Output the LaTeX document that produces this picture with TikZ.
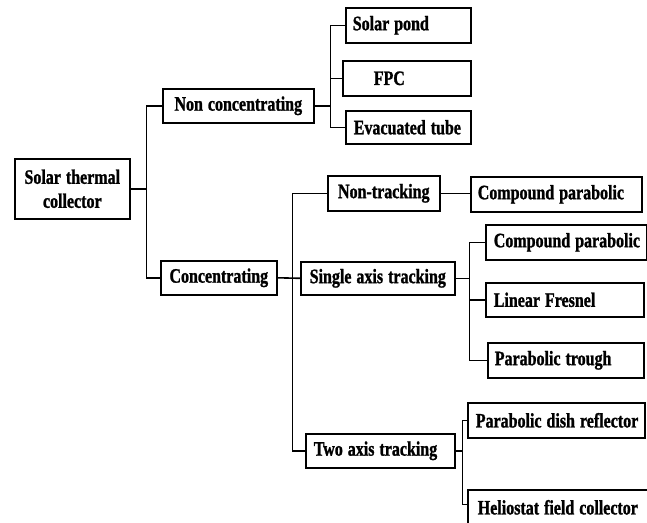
\documentclass[tikz,border=0pt]{standalone}
\usepackage{fontspec}
\setmainfont{Liberation Serif}[FakeStretch=0.78, BoldFeatures={FakeBold=1.2}]
\usetikzlibrary{calc}
\newcommand\myboxfont{\bfseries\fontsize{20.5}{24}\selectfont}
\begin{document}
\begin{tikzpicture}[x=1pt,y=-1pt,
  bx/.style={draw=black, line width=1.6pt, anchor=north west, inner ysep=0pt,
    font=\myboxfont, execute at begin node={\setlength{\spaceskip}{5pt}}},
  cbx/.style={bx, align=center, inner xsep=0pt},
  lbx/.style={bx, align=flush left},
  wire/.style={draw=black, line width=1.6pt}]
\useasboundingbox (0,0) rectangle (647,522);
% level 0
\node[cbx, minimum width=115pt, minimum height=60pt] (root) at (14,158) {Solar thermal\\collector};
% level 1
\node[cbx, minimum width=151pt, minimum height=34pt] (nc) at (162,88) {Non concentrating};
\node[cbx, minimum width=116pt, minimum height=34pt] (conc) at (160,260) {Concentrating};
% non concentrating children
\node[lbx, inner xsep=7pt, text width=111pt, minimum height=35pt] (sp) at (345,7) {\mbox{Solar pond}};
\node[lbx, inner xsep=0pt, text width=128pt, minimum height=35pt] (fpc) at (342,60) {\hspace*{31pt}\mbox{FPC}};
\node[lbx, inner xsep=8pt, text width=109pt, minimum height=33pt] (et) at (345,110) {\mbox{Evacuated tube}};
% concentrating children
\node[cbx, minimum width=112pt, minimum height=35pt] (nt) at (327,175) {Non-tracking};
\node[cbx, minimum width=154pt, minimum height=33pt] (sat) at (300,261) {Single axis tracking};
\node[lbx, inner xsep=8pt, text width=133pt, minimum height=34pt] (tat) at (305,433) {\mbox{Two axis tracking}};
% leaves
\node[lbx, inner xsep=7pt, text width=157pt, minimum height=35pt] (cp1) at (470,176) {\mbox{Compound parabolic}};
\node[lbx, inner xsep=8pt, text width=145pt, minimum height=35pt] (cp2) at (485,224) {\mbox{Compound parabolic}};
\node[lbx, inner xsep=8pt, text width=142pt, minimum height=34pt] (lf) at (485,282) {\mbox{Linear Fresnel}};
\node[lbx, inner xsep=7pt, text width=142pt, minimum height=35pt] (pt) at (487,342) {\mbox{Parabolic trough}};
\node[lbx, inner xsep=8pt, text width=161pt, minimum height=35pt] (pd) at (467,402) {\mbox{Parabolic dish reflector}};
\node[lbx, inner xsep=10pt, text width=170pt, minimum height=35pt] (hf) at (467,489) {\mbox{Heliostat field collector}};
% junctions
\coordinate (j0) at ($(root.east)+(16,0)$);
\coordinate (j1) at ($(nc.east)+(16,0)$);
\coordinate (j2) at ($(conc.east)+(15,0)$);
\coordinate (j3) at ($(sat.east)+(14,0)$);
\coordinate (j4) at ($(tat.east)+(7,0)$);
% connectors
\draw[wire] (root.east) -- (j0);
\draw[wire] (nc.west) -| (j0) |- (conc.west);
\draw[wire] (nc.east) -- (j1);
\draw[wire] (sp.west) -| (j1) |- (et.west);
\draw[wire] (j1 |- fpc.west) -- (fpc.west);
\draw[wire] (conc.east) -- (sat.west);
\draw[wire] (nt.west) -| (j2) |- (tat.west);
\draw[wire] (nt.east) -- (nt.east -| cp1.west);
\draw[wire] (sat.east) -- (j3);
\draw[wire] (cp2.west) -| (j3) |- (pt.west);
\draw[wire] (j3 |- lf.west) -- (lf.west);
\draw[wire] (tat.east) -- (j4);
\draw[wire] (pd.west) -| (j4) |- ($(hf.west)+(0,-3)$);
\end{tikzpicture}
\end{document}
